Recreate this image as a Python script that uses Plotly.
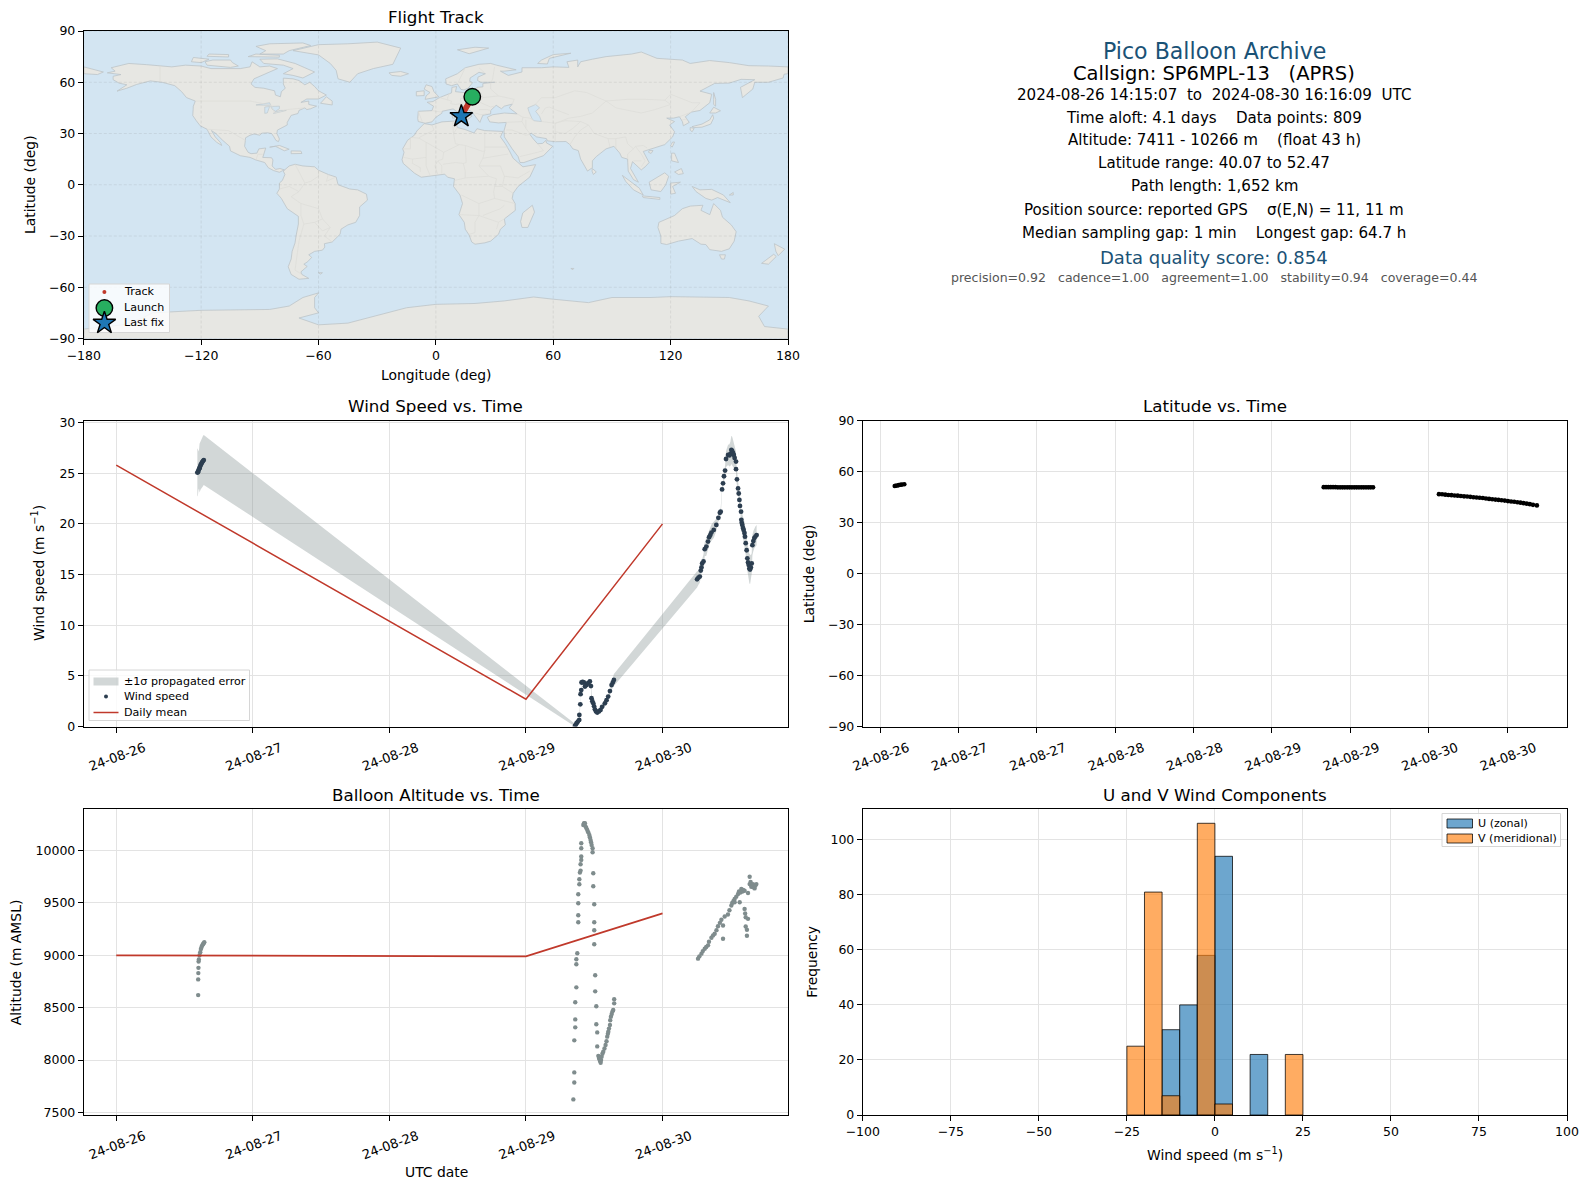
import pandas as pd
import plotly.graph_objects as go

FONT = "DejaVu Sans"
W, H = 1589, 1189

# ---- flight data (days since 2024-08-26 00:00 UTC) ----
wind_days = [0.594, 0.598, 0.602, 0.606, 0.61, 0.614, 0.618, 0.622, 0.626, 0.63, 0.635, 0.641,
             3.359, 3.365, 3.371, 3.38, 3.39, 3.391, 3.398, 3.40, 3.405, 3.407, 3.415, 3.424, 3.432, 3.444, 3.456,
             3.468, 3.476, 3.48, 3.486, 3.493, 3.499, 3.505, 3.513, 3.522, 3.534, 3.546, 3.558, 3.578, 3.59, 3.602,
             3.615, 3.627, 3.636, 3.644,
             4.253, 4.263, 4.273, 4.28, 4.285, 4.29, 4.30, 4.309, 4.321, 4.333, 4.341, 4.35, 4.358, 4.375, 4.394,
             4.409, 4.42, 4.426, 4.436, 4.443, 4.45, 4.458, 4.465, 4.48, 4.49, 4.497, 4.504, 4.51, 4.516, 4.522,
             4.528, 4.538, 4.538, 4.545, 4.553, 4.558, 4.563, 4.567, 4.575, 4.577, 4.58, 4.584, 4.589, 4.594, 4.60,
             4.604, 4.609, 4.616, 4.621, 4.626, 4.631, 4.636, 4.641, 4.647, 4.653, 4.658, 4.665, 4.672, 4.68, 4.689]
wind_speed = [25.06, 25.1, 25.25, 25.4, 25.5, 25.65, 25.8, 25.9, 26.0, 26.1, 26.2, 26.3,
              0.07, 0.2, 0.33, 0.5, 0.66, 1.15, 2.2, 3.2, 3.6, 4.35, 4.4, 4.35, 3.95, 4.1, 4.3,
              4.45, 4.0, 2.8, 2.5, 2.3, 2.0, 1.7, 1.5, 1.38, 1.5, 1.64, 1.95, 2.3, 2.6, 2.96,
              3.5, 4.1, 4.35, 4.6,
              14.53, 14.7, 14.8, 15.39, 15.7, 16.1, 16.3, 17.5, 17.76, 18.25, 18.68, 18.9, 19.14, 19.4, 19.9,
              20.6, 21.1, 21.2, 23.4, 24.0, 24.7, 25.26, 26.4, 26.8, 26.75, 26.9, 27.3, 27.2, 27.0, 26.8,
              26.5, 26.15, 25.4, 24.4, 23.5, 23.0, 22.36, 21.77, 21.2, 20.4, 20.1, 19.9, 19.6, 19.4, 19.1,
              18.74, 18.1, 17.4, 16.6, 16.2, 15.95, 15.6, 15.5, 15.7, 16.1, 17.9, 18.3, 18.6, 18.75, 18.9]
wind_sigma = [2.37, 2.3, 1.9, 1.9, 2.4, 2.4, 2.4, 2.42, 2.44, 2.45, 2.46, 2.47,
              0.2, 0.2, 0.2, 0.2, 0.2, 0.2, 0.2, 0.2, 0.2, 0.2, 0.25, 0.25, 0.25, 0.25, 0.25,
              0.25, 0.25, 0.25, 0.25, 0.25, 0.25, 0.25, 0.25, 0.25, 0.25, 0.25, 0.25, 0.3, 0.3, 0.3,
              0.4, 0.5, 0.55, 0.6,
              0.8, 0.7, 0.6, 0.6, 0.6, 0.6, 0.7, 0.7, 0.9, 0.9, 0.8, 0.7, 0.8, 0.8, 0.6,
              0.4, 0.4, 0.4, 0.3, 0.5, 0.5, 0.5, 0.8, 1.0, 1.1, 1.2, 1.4, 1.4, 1.3, 1.2,
              1.1, 1.0, 0.9, 0.7, 0.6, 0.6, 0.6, 0.8, 0.9, 0.9, 1.0, 1.0, 1.1, 1.1, 1.1,
              1.1, 1.1, 1.1, 1.2, 1.3, 1.4, 1.45, 1.45, 1.2, 1.0, 1.0, 1.0, 1.0, 1.0, 1.0]

mean_days = [0, 3, 4]
mean_wind = [25.8, 2.7, 20.0]
mean_alt = [9000, 8990, 9400]

alt_days = [0.600, 0.600, 0.601, 0.602, 0.603, 0.605, 0.61, 0.615, 0.62, 0.625, 0.63, 0.635, 0.64, 0.645,
            3.347, 3.354, 3.354, 3.354, 3.361, 3.361, 3.361, 3.369, 3.369, 3.369, 3.376, 3.383, 3.383, 3.383, 3.383,
            3.391, 3.391, 3.395, 3.400, 3.400, 3.405, 3.405, 3.405, 3.405, 3.420, 3.425, 3.428, 3.432, 3.437, 3.442, 3.449,
            3.456, 3.464, 3.468, 3.473, 3.477, 3.481, 3.488, 3.488, 3.493, 3.493, 3.500, 3.500, 3.500, 3.500, 3.507, 3.507,
            3.515, 3.515, 3.522, 3.522, 3.53, 3.535, 3.537, 3.54, 3.543, 3.547, 3.55, 3.554, 3.56, 3.566, 3.575, 3.583, 3.59,
            3.595, 3.60, 3.603, 3.608, 3.615, 3.617, 3.622, 3.628, 3.634, 3.639, 3.646, 3.646,
            4.26, 4.27, 4.285, 4.295, 4.309, 4.32, 4.333, 4.34, 4.358, 4.37, 4.382, 4.395, 4.406, 4.42, 4.431, 4.443, 4.443,
            4.455, 4.479, 4.49, 4.504, 4.51, 4.52, 4.528, 4.528, 4.54, 4.553, 4.56, 4.565, 4.57, 4.577, 4.585, 4.59, 4.601,
            4.601, 4.605, 4.609, 4.609, 4.618, 4.618, 4.626, 4.626, 4.638, 4.638, 4.645, 4.65, 4.655, 4.662, 4.668, 4.674, 4.68, 4.687]
alt_m = [8620, 8770, 8830, 8880, 8940, 8960, 9000, 9030, 9060, 9080, 9095, 9105, 9115, 9125,
         7624, 7786, 7882, 8188, 8312, 8388, 8551, 8694, 8914, 8962, 9019, 9315, 9382, 9497, 9583,
         9678, 9726, 9790, 9809, 9869, 9911, 9943, 10022, 10070, 10245, 10262, 10255, 10261, 10229, 10215, 10197,
         10175, 10150, 10128, 10102, 10080, 10054, 10022, 9984, 9783, 9659, 9487, 9315, 9239, 9105, 8809, 8656,
         8513, 8341, 8264, 8130, 8040, 8020, 8016, 8000, 7990, 7974, 8000, 8032, 8060, 8079, 8110, 8143, 8180,
         8223, 8250, 8271, 8300, 8334, 8380, 8414, 8440, 8465, 8478, 8541, 8580,
         8968, 8990, 9016, 9040, 9063, 9080, 9095, 9130, 9168, 9190, 9206, 9240, 9278, 9310, 9339, 9285, 9158,
         9370, 9389, 9430, 9475, 9500, 9520, 9538, 9506, 9560, 9585, 9610, 9506, 9600, 9633, 9610, 9625, 9617,
         9443, 9400, 9364, 9275, 9244, 9187, 9595, 9348, 9750, 9680, 9700, 9655, 9660, 9680, 9650, 9639, 9665, 9680]

lat_days = [0.594, 0.60, 0.61, 0.62, 0.63, 0.64, 0.655,
            3.33, 3.345, 3.36, 3.375, 3.39, 3.405, 3.42, 3.435, 3.45, 3.465, 3.48, 3.495, 3.51, 3.525, 3.54, 3.555,
            3.57, 3.585, 3.60, 3.615, 3.63, 3.645,
            4.065, 4.085, 4.105, 4.125, 4.145, 4.165, 4.185, 4.205, 4.225, 4.245, 4.265, 4.285, 4.305, 4.325, 4.345,
            4.365, 4.385, 4.405, 4.425, 4.445, 4.465, 4.485, 4.505, 4.525, 4.545, 4.565, 4.585, 4.605, 4.625, 4.645,
            4.665, 4.69]
lat_deg = [51.5, 51.6, 51.8, 52.0, 52.2, 52.3, 52.47,
           50.8, 50.8, 50.8, 50.8, 50.8, 50.8, 50.7, 50.7, 50.7, 50.7, 50.7, 50.7, 50.7, 50.7, 50.7, 50.7,
           50.7, 50.7, 50.7, 50.7, 50.7, 50.7,
           46.7, 46.6, 46.4, 46.2, 46.1, 45.9, 45.8, 45.6, 45.4, 45.3, 45.1, 44.9, 44.7, 44.6, 44.4,
           44.1, 43.9, 43.7, 43.5, 43.3, 43.1, 42.9, 42.6, 42.4, 42.2, 41.9, 41.7, 41.4, 41.1, 40.8,
           40.4, 40.07]

track_lon = [18.6, 18.2, 17.8, 17.4, 17.0, 16.6, 16.2, 15.8, 15.4, 15.0, 14.6, 14.2, 13.8, 13.4, 13.0]
track_lat = [51.5, 50.6, 49.8, 49.0, 48.2, 47.4, 46.6, 45.8, 45.0, 44.2, 43.4, 42.6, 41.8, 40.9, 40.07]
launch_lon, launch_lat = [18.6], [51.5]
last_lon, last_lat = [13.0], [40.07]

u_centers = [-12.5, -7.5, -2.5, 2.5, 12.5]
u_counts = [31, 40, 58, 94, 22]
v_centers = [-22.5, -17.5, -12.5, -2.5, 2.5, 22.5]
v_counts = [25, 81, 7, 106, 4, 22]

map_lon_ticks = [-180, -120, -60, 0, 60, 120, 180]
map_lat_ticks = [-90, -60, -30, 0, 30, 60, 90]
wind_ticks = [0, 5, 10, 15, 20, 25, 30]
alt_ticks = [7500, 8000, 8500, 9000, 9500, 10000]
hist_x_ticks = [-100, -75, -50, -25, 0, 25, 50, 75, 100]
hist_y_ticks = [0, 20, 40, 60, 80, 100]
day_ticks = ["2024-08-26", "2024-08-27", "2024-08-28", "2024-08-29", "2024-08-30"]
day_labels = ["24-08-26", "24-08-27", "24-08-28", "24-08-29", "24-08-30"]
lat_ticks_t = ["2024-08-26 12:00", "2024-08-27 00:00", "2024-08-27 12:00", "2024-08-28 00:00", "2024-08-28 12:00",
               "2024-08-29 00:00", "2024-08-29 12:00", "2024-08-30 00:00", "2024-08-30 12:00"]
lat_labels = ["24-08-26", "24-08-27", "24-08-27", "24-08-28", "24-08-28", "24-08-29", "24-08-29", "24-08-30", "24-08-30"]

title_lines = ["Pico Balloon Archive", "Callsign: SP6MPL-13   (APRS)",
               "2024-08-26 14:15:07  to  2024-08-30 16:16:09  UTC",
               "Time aloft: 4.1 days    Data points: 809",
               "Altitude: 7411 - 10266 m    (float 43 h)",
               "Latitude range: 40.07 to 52.47",
               "Path length: 1,652 km",
               "Position source: reported GPS    σ(E,N) = 11, 11 m",
               "Median sampling gap: 1 min    Longest gap: 64.7 h",
               "Data quality score: 0.854",
               "precision=0.92   cadence=1.00   agreement=1.00   stability=0.94   coverage=0.44"]

# ---- coastlines, traced by hand (no network for map data) ----
land = [
    # north america
    [(-168,65.5),(-164,66.5),(-166,68.5),(-157,71),(-148,70.3),(-141,69.7),(-135,69),(-128,70),(-120,69.5),(-115,68),
     (-108,68),(-100,68),(-95,69),(-94,72),(-90,69),(-85,69.5),(-81,68),(-87,65),(-93,62),(-94.5,59),(-92.5,57),(-88,56.5),
     (-82.5,55),(-82,52.5),(-79.5,51.5),(-79,54.5),(-77,56.5),(-78,59),(-78,62.4),(-73,62),(-70,61),(-67,58.5),(-64.5,60),
     (-62,57.5),(-60,55),(-56,52.5),(-60,50.2),(-66,50.2),(-69,48.2),(-65,49),(-65,47),(-61,46),(-64,44.5),(-66,44),(-67,45),
     (-70,43.5),(-70.5,41.7),(-74,40.6),(-75.5,38),(-76,36.5),(-76,35),(-78,33.9),(-81,32),(-81.3,30),(-80,26.8),(-80.5,25.2),
     (-81.8,26),(-82.8,28),(-84,30),(-86,30.4),(-89,30.2),(-90,29),(-93,29.7),(-95,29),(-97.3,27.5),(-97.5,25),(-97.8,22.5),
     (-96,19),(-94.5,18.2),(-91.5,18.5),(-90.5,21),(-87,21.5),(-87.7,18.5),(-88.5,16),(-84,15.8),(-83.3,14.5),(-83.7,11),
     (-82,9),(-79.7,9.5),(-77.5,8.7),(-78.3,8.3),(-80,7.3),(-83,8.3),(-85.7,10),(-87.5,13),(-92,14.5),(-95,16),(-100,17),
     (-105,19.8),(-105.5,22.5),(-109,26),(-112.5,30),(-114.7,31.7),(-112.8,28),(-110,24.5),(-109.5,23),(-112,24.8),(-115,28),
     (-117,32.5),(-120.5,34.5),(-122.5,37.5),(-124.3,40.5),(-124,46),(-123,49),(-127.5,51),(-130,54.5),(-133.5,58),(-140,60),
     (-146,60.8),(-151,59.5),(-153,58.7),(-158,56.5),(-163,54.8),(-158,58.5),(-162,59.5),(-165,61.5),(-165,63.5),(-161,64.5)],
    [(-62,66),(-68,62.5),(-73,64),(-78,65),(-73,68),(-78,70),(-88,71),(-90,73.5),(-81,73.7),(-72,71),(-67,68.5)],
    [(-117,70),(-105,68.7),(-101,69.5),(-104,71.5),(-105,73),(-114,73),(-118,72)],
    [(-125,72),(-120,71.5),(-116,73.5),(-124,74.5)],
    [(-90,76.5),(-78,76.5),(-75,78.5),(-64,81.5),(-68,83),(-85,82.5),(-92,81),(-87,78.5)],
    [(-96,75),(-80,74.7),(-80,75.8),(-92,76.5)],
    [(-117,75.2),(-106,74.8),(-106,76.2),(-116,76.5)],
    [(-59,47.7),(-53,46.7),(-53,49),(-56,51.5)],
    [(-73,78.5),(-60,76),(-54,71),(-51,67),(-50,62),(-44,60),(-40,65),(-32,68),(-22,70.5),(-20,75),(-18,80),(-30,83.5),(-45,82.5),(-60,82)],
    [(-24,65.5),(-18,66.3),(-14,65),(-18,63.5),(-22.5,64)],
    [(-85,22),(-80,23),(-75,20.8),(-77.5,19.9),(-82,22.5)],
    [(-74,19.8),(-69,19.7),(-68.5,18.3),(-74,18.2)],
    # south america
    [(-78,8),(-75,11),(-72,12),(-68,11),(-62,10.5),(-60,8.5),(-55,6),(-51,4.5),(-50,0),(-44,-2.5),(-40,-3),(-35.5,-5.5),(-35,-9),
     (-39,-13),(-39,-18),(-41,-22),(-45,-23.5),(-48.5,-26),(-49,-29),(-53,-33.5),(-57,-34.5),(-56.8,-36.5),(-58,-38.3),(-62,-39),
     (-65,-41),(-63.5,-42.5),(-65.5,-45),(-67.5,-46.5),(-65.8,-47.8),(-69,-51),(-68.5,-52.5),(-65,-54.8),(-70,-55.3),(-74,-52.5),
     (-75.5,-48),(-74,-43.5),(-73.5,-39),(-72,-34),(-71.5,-30),(-70.3,-23),(-70.3,-18.5),(-76,-14),(-79,-8),(-81.3,-5),(-80,-2.5),
     (-80,1),(-78.5,2.5),(-77.2,6)],
    # africa
    [(-6,35.8),(-2,35),(3,36.8),(10,37.3),(11,33.5),(15,32.3),(19.5,30.3),(21,32.8),(25,31.7),(32,31.2),(34.3,31.2),(33,28),
     (35.5,24),(37.5,20),(39.5,15.5),(43,12),(44.5,10.5),(51,11.8),(48,4.5),(42,-1),(39.5,-5),(39,-8),(40.5,-11),(40.6,-15),
     (35,-20),(35.5,-23.5),(33,-26),(32,-29),(28,-33),(25,-34),(20,-34.8),(18.3,-33.5),(17,-29.5),(15,-26),(14.5,-22),(11.8,-17.5),
     (13.6,-11),(12.3,-6),(9,-1),(9.5,3.5),(6,4.4),(4.5,6.2),(1,5.8),(-4,5.2),(-7.5,4.4),(-11,6.8),(-13.5,9.5),(-16.7,12.5),
     (-17.3,14.7),(-16.3,19),(-17,21),(-14.5,26),(-11,29),(-9.7,31.5)],
    [(49.3,-12),(50.4,-16),(47,-25),(44,-25),(43.3,-21.5),(44.4,-16.5)],
    # eurasia
    [(-9,37),(-9.3,38.8),(-9,43),(-2,43.4),(-1.2,46),(-4.5,48.3),(-1.5,48.7),(1.5,50.8),(4,52),(8,53.8),(8.2,57),(10.6,57.5),
     (10,54.5),(14,54),(19,54.5),(21,57),(24,57.3),(24,59.3),(30,60),(23,60),(21.3,61),(21.5,63),(25.3,65),(22,65.8),(17.5,62.5),
     (17.3,60.5),(18.8,59.8),(16.5,56.5),(14.3,55.5),(12.8,55.8),(11,59),(8,58),(5.2,59),(5,62),(11,65),(15,68.5),(22,70.5),(28,71),
     (31,70),(41,67.3),(35,66.5),(33,66.5),(37,64),(40,64.7),(44,66),(44,68.5),(54,68.5),(60,69),(68,68.7),(67,72),(72.5,73),(72.5,69),
     (74,72),(80,73.5),(87,75),(100,76.5),(105,77.7),(113,74),(126,73),(130,71),(140,72.7),(150,71.5),(160,69.7),(170,69.5),(180,69),
     (180,65),(178,64.7),(177.5,62.5),(170,60),(163,60),(162,56),(156.7,51),(155.7,57),(163,61.5),(156,61.7),(150,59.5),(142.5,59.3),
     (135,54.8),(141,53),(140,48),(135,43.5),(130.5,42.5),(127.5,39.8),(129.5,36.5),(126.5,34.5),(126,37),(124.5,39.8),(121.5,39),
     (118,39),(122,37),(119.5,35),(122,31),(121,28),(117,23.5),(113.5,22.2),(110,21),(106,19.5),(109,13),(107,10.5),(105,8.7),
     (100.5,13.5),(99.5,9.5),(103.5,1.5),(101,3),(98.3,8),(98,15),(95,16),(94,18.5),(91,22.5),(87,21),(82,16.5),(80,14),(80,10),
     (77.5,8),(74,15),(72.8,20),(70,21),(68.5,23.5),(66.5,25.3),(61,25.2),(57,25.7),(56.5,27),(51.5,28),(48.7,30.2),(48,29.5),(50,26.5),
     (52,24),(54.5,24.2),(56.3,26),(56.5,24.5),(59.7,22.5),(55,17),(45,13),(43,13),(42,16.5),(39,21),(35,28),(34.8,31.5),(36,36.5),
     (32,36.2),(27.5,36.8),(26.3,39.5),(29,41),(35,42),(41.5,41.5),(37.5,45),(39,47.2),(35,46),(33.5,44.5),(30.8,46.5),(28,43.5),
     (28,41.5),(24,40.7),(23,38),(22.5,36.5),(19.5,41),(19,42.3),(13.8,45.6),(12.3,45),(14,42.5),(18.5,40.2),(16,38),(15.5,40),(10.5,43),
     (8.8,44.4),(3.2,43),(3,41.8),(0,39.5),(-2,36.8),(-5.5,36)],
    [(-180,69),(-175,67.5),(-170,66),(-173,64.5),(-180,65)],
    [(130.9,34),(136,35.5),(140,38),(141.5,41),(142,39),(140.5,35.5),(136,33.7),(132,33.5)],
    [(140,42),(142,45.4),(145.5,43.3),(143,42)],
    [(130,33.5),(132,33),(131,31),(130,32)],
    [(142,54),(143,50),(143,46),(142,47),(142,50)],
    [(-5.5,50),(1.5,51.5),(-1,54.5),(-2,57.5),(-5,58.5),(-6,56),(-3,54),(-5,52)],
    [(-10,52),(-6,52.2),(-6,55),(-10,54.5)],
    [(11,79),(20,80.5),(27,80),(17,76.7)],
    [(52,71),(57,70.7),(58,74),(69,77),(60,76.2),(54,73)],
    [(95.3,5.5),(104,-2),(106,-6),(101,-3),(97,2)],
    [(109,1.5),(117,7),(119,5),(117.5,0),(115,-4),(110,-3)],
    [(105.5,-6.5),(114.5,-7.5),(114.5,-8.6),(106,-7.5)],
    [(120,1),(125,1.5),(121,-1),(122.5,-5),(120,-5.5)],
    [(131,-1),(135,-3),(141,-2.7),(147,-6),(150.5,-10.5),(144,-7.5),(141,-9),(138,-8),(133,-4)],
    [(120.5,18.5),(122,18.5),(124,13),(120.5,14)],
    [(122,7.5),(125.5,9.5),(126.5,6.5),(124,6)],
    [(121,25),(122,25),(120.8,22),(120,23)],
    [(109,20),(111,20),(110,18.3),(108.7,19)],
    [(80,9.5),(82,7.5),(80.5,6),(79.8,8)],
    [(114,-22),(122,-18),(126,-14),(130,-12.5),(136.5,-12),(135.5,-15),(140,-17.5),(142,-11),(145.5,-15),(146.5,-19),(151,-23.5),
     (153.5,-27.5),(152.5,-33),(150,-37.5),(146,-39),(140,-38),(138,-35),(135.5,-34.8),(131,-31.5),(124,-33),(118,-35),(115,-34.3),
     (115,-30),(113.5,-25)],
    [(145,-41),(148,-41),(147.5,-43.5),(146,-43.5)],
    [(173,-34.5),(178.3,-37.7),(175,-41.5),(173.8,-39)],
    [(172.7,-40.7),(174,-42),(170,-46.5),(166.5,-46),(170,-43)],
    [(12.5,38),(15.5,38.2),(15,36.7)],
    [(8.3,41),(9.7,41),(9.5,39),(8.5,39)],
    [(150,-6),(152,-4.5),(152,-6)],
    [(-60,-51.5),(-58,-51.5),(-59,-52.3)],
    [(69,-49),(70.5,-49),(70,-49.7)],
    # antarctica
    [(-180,-84.5),(-160,-82),(-150,-78),(-145,-75),(-120,-73.5),(-100,-73),(-85,-73),(-75,-71),(-68,-66),(-60,-63.3),(-62,-66),
     (-62,-72),(-60,-75),(-70,-78),(-60,-82),(-45,-81),(-35,-78),(-25,-75),(-15,-72),(0,-70),(20,-69.5),(35,-68),(50,-65.7),(60,-67),
     (70,-68),(78,-69),(90,-66),(110,-66),(120,-65.5),(135,-65.8),(150,-66),(160,-68),(170,-71),(165,-77),(168,-83),(180,-84.5),
     (180,-90),(-180,-90)],
]
inland_water = [
    [(47,45),(51,47),(53,45),(51,43),(53,40),(54,37),(50,37.5),(49,39),(47.5,43)],
    [(-92,46.7),(-85,48),(-84.5,46.5),(-87,46.5)],
    [(-87.5,41.8),(-86.2,42),(-85,45.8),(-87.5,45.5)],
    [(-84.5,45.8),(-80,46),(-80,44.5),(-82,43),(-83.5,44)],
    [(-83,41.7),(-79,42.8),(-76.5,43.5),(-79.5,43.5),(-82.5,42.5)],
]
borders = [
    [(-141,69.7),(-141,60)], [(-123,49),(-95,49),(-84,46.5),(-82.5,42),(-76,44),(-67,45)],
    [(-117,32.5),(-106,31.7),(-97.3,25.9)], [(-92,14.5),(-91,17.8),(-88.5,17.8)],
    [(-72,12),(-67,1),(-70,-4),(-74,-7),(-69,-11),(-69,-18),(-67.5,-23),(-70,-33),(-72,-50),(-68.5,-52.5)],
    [(-60,8.5),(-60,5),(-64,2),(-67,1)], [(-55,6),(-56,2),(-51,4.5)], [(-80,-2.5),(-75,-1),(-70,-4)],
    [(-69,-11),(-60,-14),(-58,-20),(-54,-25),(-57,-30),(-53,-33.5)], [(-58,-20),(-62,-22),(-67.5,-23)], [(-62,-22),(-58,-27),(-54,-25)],
    [(-9,43),(-7,37)], [(-2,43.4),(3,42.5)], [(2,51),(8,49),(7.5,47.5),(10,47),(13,47.5),(17,48.5),(22,48.5),(24,51),(23,54),(19,54.5)],
    [(7,53.5),(6,51),(6,49.5)], [(14.5,54),(15,51),(12.5,50.3),(13,47.5)], [(22,48.5),(28,45.5),(30,46)], [(24,51),(32,52),(40,50),(39,47)],
    [(28,59.5),(28,56),(32,52)], [(30,69),(29,62),(28,59.5)], [(22,68.5),(25,65.5)], [(15,68.5),(12,62),(11,59)],
    [(20,42),(23,41),(26,41.5)], [(22,44),(26,44),(28,43.5)], [(36,36.5),(44,37),(44.5,39.5),(41.5,41.5)], [(44,37),(46,33),(48,30)],
    [(36,32),(39,32),(46,29),(48,29.5)], [(52,24),(55,20),(52,19),(45,17),(43,16.5)],
    [(50,37.5),(48,39),(44.5,39.5)], [(46,33),(46,38)], [(61,25.2),(61,31),(61,36),(54,37)], [(61,31),(66,30),(70,33),(74,37),(66,37.5),(61,36)],
    [(68.5,23.5),(71,28),(74,32),(78,35)], [(74,37),(78,35),(81,30),(88,27),(92,27),(97,28),(98,24),(101,21),(102,22.5),(106,23),(108,21.5)],
    [(88,27),(89,22)], [(92,27),(92,21)], [(98,15),(98,18),(101,21)], [(102,22.5),(105,18),(107,14),(105,10.5)], [(101,14),(105,14)],
    [(50,46),(54,51),(61,51),(71,55),(77,54),(87,49)], [(87,49),(80,42),(74,40),(68,39),(61,36)], [(54,41.5),(56,45),(58,45.5),(61,44),(68,41)],
    [(87,49),(98,50),(107,50),(117,49.5),(120,53),(127,50),(131,48),(135,48),(131,43)], [(87,49),(92,45),(105,42),(112,44),(120,47),(117,49.5)],
    [(124.5,39.8),(130.5,42.5)], [(126,38),(128.5,38.5)],
    # africa
    [(-2,35),(-1,32),(-8,28),(-8.7,27.3),(-13,27.7)], [(-8.7,27.3),(-5,25),(4,19),(12,23.5),(15,23)], [(8.5,37),(9,30),(10,24),(12,23.5)],
    [(11,33.5),(9,30)], [(25,31.7),(25,20),(24,15.5),(22,11),(27,5)], [(25,22),(37,22)], [(15,23),(24,19.5),(25,20)],
    [(15,23),(15.5,13),(14,12.5),(15,8),(15,4),(9.5,2.5)], [(4,19),(3.5,15),(1,14),(3,11),(3,6.5)], [(-17,21),(-13,21),(-13,27.7)],
    [(-16.5,16),(-12,15),(-5,16),(-5,25)], [(-12,15),(-12,12.5),(-8,10),(-8,7.5)], [(-5,16),(-5,11),(-3,5.5)], [(1,14),(-0.5,11),(1,6)],
    [(14,12.5),(10,13),(3.5,12)], [(24,15.5),(37,18)], [(22,11),(33,11),(35,5),(42,4),(48,8)], [(35,5),(34,-1),(39.5,-5)],
    [(15,4),(27,5),(31,3.5),(29.5,-4),(30,-8),(22,-11),(13,-6)], [(22,-11),(22,-18),(12,-17.5)], [(22,-18),(20,-22),(20,-28),(17,-29)],
    [(22,-18),(32,-22),(35,-20)], [(30,-8),(40.5,-11)], [(34,-1),(30,-1)], [(24,-18),(30,-15.5),(33,-14),(35,-12)], [(32,-22),(31,-26)],
]


def dates(days):
    return [pd.Timestamp("2024-08-26") + pd.Timedelta(days=d) for d in days]


def flat(lines):
    # one trace per style, breaks between the lines
    xs, ys = [], []
    for line in lines:
        xs += [p[0] for p in line] + [None]
        ys += [p[1] for p in line] + [None]
    return xs, ys


def closed(lines):
    return flat([line + [line[0]] for line in lines])


def px_y(y):
    return 1 - y / H


def dom_x(a, b):
    return [a / W, b / W]


def dom_y(top, bottom):
    return [1 - bottom / H, 1 - top / H]


fig = go.Figure()

# flight track map
ocean = "#d3e5f2"
land_x, land_y = closed(land)
fig.add_trace(go.Scatter(x=land_x, y=land_y, mode="lines", fill="toself", fillcolor="#e7e7e3", xaxis="x", yaxis="y",
                         line=dict(color="#bcc4c8", width=0.8), hoverinfo="skip"))
water_x, water_y = closed(inland_water)
fig.add_trace(go.Scatter(x=water_x, y=water_y, mode="lines", fill="toself", fillcolor=ocean, xaxis="x", yaxis="y",
                         line=dict(color="#bcc4c8", width=0.6), hoverinfo="skip"))
border_x, border_y = flat(borders)
fig.add_trace(go.Scatter(x=border_x, y=border_y, mode="lines", xaxis="x", yaxis="y",
                         line=dict(color="#dcdcd9", width=0.7), hoverinfo="skip"))
grid_x, grid_y = flat([[(v, -90), (v, 90)] for v in map_lon_ticks] + [[(-180, v), (180, v)] for v in map_lat_ticks])
fig.add_trace(go.Scatter(x=grid_x, y=grid_y, mode="lines", xaxis="x", yaxis="y",
                         line=dict(color="rgba(120,120,120,0.2)", width=0.7, dash="3px,2px"), hoverinfo="skip"))
fig.add_trace(go.Scatter(x=track_lon, y=track_lat, mode="markers", name="Track", xaxis="x", yaxis="y",
                         marker=dict(color="#c0392b", size=5.5)))
fig.add_trace(go.Scatter(x=launch_lon, y=launch_lat, mode="markers", name="Launch", xaxis="x", yaxis="y",
                         marker=dict(color="#27ae60", size=16.5, line=dict(color="black", width=1.4))))
fig.add_trace(go.Scatter(x=last_lon, y=last_lat, mode="markers", name="Last fix", xaxis="x", yaxis="y",
                         marker=dict(color="#1f77b4", size=17, symbol="star", line=dict(color="black", width=1.4))))

# wind speed
band_upper = [s + e for s, e in zip(wind_speed, wind_sigma)]
band_lower = [max(s - e, 0) for s, e in zip(wind_speed, wind_sigma)]
wind_t = dates(wind_days)
BAND = "rgba(127,140,141,0.35)"
fig.add_trace(go.Scatter(x=wind_t + wind_t[::-1], y=band_upper + band_lower[::-1], mode="lines", fill="toself",
                         fillcolor=BAND, line=dict(width=0), name="±1σ propagated error",
                         xaxis="x2", yaxis="y2", hoverinfo="skip"))
fig.add_trace(go.Scatter(x=wind_t, y=wind_speed, mode="markers", name="Wind speed", xaxis="x2", yaxis="y2",
                         marker=dict(color="#2c3e50", size=4.8)))
fig.add_trace(go.Scatter(x=dates(mean_days), y=mean_wind, mode="lines", name="Daily mean", xaxis="x2", yaxis="y2",
                         line=dict(color="#c0392b", width=1.5)))

# latitude
fig.add_trace(go.Scatter(x=dates(lat_days), y=lat_deg, mode="markers", xaxis="x3", yaxis="y3",
                         marker=dict(color="black", size=4.6)))

# altitude
fig.add_trace(go.Scatter(x=dates(alt_days), y=alt_m, mode="markers", xaxis="x4", yaxis="y4",
                         marker=dict(color="#7f8c8d", size=4.4)))
fig.add_trace(go.Scatter(x=dates(mean_days), y=mean_alt, mode="lines", xaxis="x4", yaxis="y4",
                         line=dict(color="#c0392b", width=1.8)))

# u / v histogram
U_FILL, V_FILL = "rgba(31,119,180,0.65)", "rgba(255,127,14,0.65)"
EDGE = "rgba(0,0,0,0.75)"
fig.add_trace(go.Bar(x=u_centers, y=u_counts, width=5, name="U (zonal)", xaxis="x5", yaxis="y5",
                     marker=dict(color=U_FILL, line=dict(color=EDGE, width=1))))
fig.add_trace(go.Bar(x=v_centers, y=v_counts, width=5, name="V (meridional)", xaxis="x5", yaxis="y5",
                     marker=dict(color=V_FILL, line=dict(color=EDGE, width=1))))


# legends are drawn by hand on a full page axis in pixels, plotly's own rows are too tall
def key_box(x0, y0, x1, y1, fill="rgba(255,255,255,0.8)", edge="#d6d6d6", width=1):
    fig.add_trace(go.Scatter(x=[x0, x1, x1, x0, x0], y=[y0, y0, y1, y1, y0], mode="lines", fill="toself", fillcolor=fill,
                             line=dict(color=edge, width=width), xaxis="x6", yaxis="y6", hoverinfo="skip"))


def key_mark(x, y, **marker):
    fig.add_trace(go.Scatter(x=[x], y=[y], mode="markers", marker=marker, xaxis="x6", yaxis="y6", hoverinfo="skip"))


key_box(89, 284, 169.5, 332.5)
key_mark(104.4, 292, color="#c0392b", size=4)
key_mark(104.4, 308, color="#27ae60", size=16.5, line=dict(color="black", width=1.4))
key_mark(104.4, 323, color="#1f77b4", size=17, symbol="star", line=dict(color="black", width=1.4))
key_box(89, 670, 249.5, 720.5)
key_box(93.5, 677.5, 118.5, 685.5, fill=BAND, edge="rgba(0,0,0,0)", width=0)
key_mark(106, 696.5, color="#2c3e50", size=4)
fig.add_trace(go.Scatter(x=[93.5, 118.5], y=[712.5, 712.5], mode="lines", line=dict(color="#c0392b", width=1.5),
                         xaxis="x6", yaxis="y6", hoverinfo="skip"))
key_box(1442, 813.5, 1560.5, 846.5)
key_box(1447, 819, 1472.5, 828, fill=U_FILL, edge=EDGE)
key_box(1447, 834, 1472.5, 843, fill=V_FILL, edge=EDGE)

GRID = "#e3e3e3"


def axis(domain, anchor, **kw):
    a = dict(domain=domain, anchor=anchor, showline=True, mirror=True, linecolor="black", linewidth=1, automargin=False,
             ticks="outside", ticklen=5, tickwidth=1, tickcolor="black", gridcolor=GRID, gridwidth=1,
             zeroline=False, tickfont=dict(family=FONT, size=12.5, color="black"))
    a.update(kw)
    return a


left = dom_x(83.8, 788)
right = dom_x(862.8, 1567)
row1 = dom_y(31, 338.5)
row2 = dom_y(420.5, 726.6)
row3 = dom_y(808.7, 1115)
wind_range = ["2024-08-25 18:18", "2024-08-30 22:03"]
lat_range = ["2024-08-26 09:22", "2024-08-30 21:10"]
date_ticks = dict(tickangle=-20, ticklabelshift=28, ticklabelstandoff=3, tickfont=dict(family=FONT, size=13, color="black"))

fig.update_layout(
    width=W, height=H, margin=dict(l=0, r=0, t=0, b=0), autosize=False, showlegend=False,
    paper_bgcolor="white", plot_bgcolor="rgba(0,0,0,0)", barmode="overlay", font=dict(family=FONT, color="black"),
    xaxis=axis(left, "y", range=[-180, 180], tickvals=map_lon_ticks, showgrid=False),
    yaxis=axis(row1, "x", range=[-90, 90], tickvals=map_lat_ticks, showgrid=False),
    xaxis2=axis(left, "y2", range=wind_range, tickvals=day_ticks, ticktext=day_labels, **date_ticks),
    yaxis2=axis(row2, "x2", range=[0, 30.2], tickvals=wind_ticks),
    xaxis3=axis(right, "y3", range=lat_range, tickvals=lat_ticks_t, ticktext=lat_labels, **date_ticks),
    yaxis3=axis(row2, "x3", range=[-90, 90], tickvals=map_lat_ticks),
    xaxis4=axis(left, "y4", range=wind_range, tickvals=day_ticks, ticktext=day_labels, **date_ticks),
    yaxis4=axis(row3, "x4", range=[7475, 10400], tickvals=alt_ticks, tickformat="d"),
    xaxis5=axis(right, "y5", range=[-100, 100], tickvals=hist_x_ticks),
    yaxis5=axis(row3, "x5", range=[0, 111.3], tickvals=hist_y_ticks),
    xaxis6=dict(domain=[0, 1], anchor="y6", range=[0, W], visible=False, fixedrange=True, automargin=False),
    yaxis6=dict(domain=[0, 1], anchor="x6", range=[H, 0], visible=False, fixedrange=True, automargin=False),
    shapes=[dict(type="rect", xref="x domain", yref="y domain", x0=0, x1=1, y0=0, y1=1, layer="below",
                 fillcolor=ocean, line=dict(width=0))],
)

annotations = []


def label(text, x, y, size=13.9, color="black", angle=0, xanchor="center"):
    annotations.append(dict(text=text, x=x / W, y=px_y(y), xref="paper", yref="paper", showarrow=False, textangle=angle,
                            xanchor=xanchor, yanchor="middle", font=dict(family=FONT, size=size, color=color)))


for text, x, y in [("Flight Track", 435.7, 17.5), ("Wind Speed vs. Time", 435.7, 405.5), ("Latitude vs. Time", 1214.5, 405.5),
                   ("Balloon Altitude vs. Time", 435.7, 794.5), ("U and V Wind Components", 1214.5, 794.5)]:
    label(text, x, y, size=16.7)

# axis titles
label("Longitude (deg)", 436, 375)
label("UTC date", 436, 1171.5)
label("Wind speed (m s<sup>−1</sup>)", 1214.5, 1154)
label("Latitude (deg)", 30.5, 184.5, angle=-90)
label("Wind speed (m s<sup>−1</sup>)", 37.5, 573.5, angle=-90)
label("Latitude (deg)", 808.7, 573.5, angle=-90)
label("Altitude (m AMSL)", 16.2, 962, angle=-90)
label("Frequency", 811.7, 962, angle=-90)

# legend texts
for text, y in [("Track", 292), ("Launch", 308), ("Last fix", 323)]:
    label(text, 122, y, size=11.1, xanchor="left")
for text, y in [("±1σ propagated error", 681), ("Wind speed", 696.5), ("Daily mean", 712.5)]:
    label(text, 122, y, size=11.1, xanchor="left")
for text, y in [("U (zonal)", 823), ("V (meridional)", 838.5)]:
    label(text, 1476, y, size=11.1, xanchor="left")

# summary block on the top right
line_y = [51, 73, 95, 118, 140, 163, 186, 210, 233, 257, 277.5]
line_size = [22.1, 19.5, 15.1, 15.1, 15.1, 15.1, 15.1, 15.1, 15.1, 18, 12.56]
line_color = ["#1a5276", "black", "black", "black", "black", "black", "black", "black", "black", "#1a5276", "#555555"]
for text, y, size, color in zip(title_lines, line_y, line_size, line_color):
    label(text, 1214, y, size=size, color=color)
fig.update_layout(annotations=annotations)

fig.write_html("out.html", config=dict(displayModeBar=False), post_script="document.body.style.margin='0';")
